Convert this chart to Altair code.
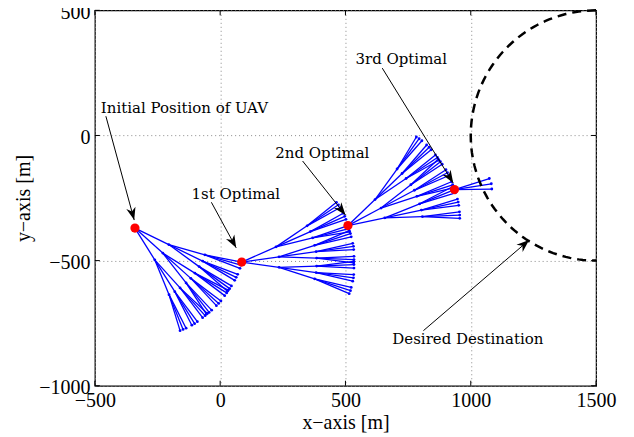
import altair as alt
import pandas as pd
import numpy as np

# ---------------- data ----------------
# optimal / initial UAV positions (red dots)
opt_x = [-340, 86, 510, 935]
opt_y = [-370, -506, -360, -216]

# tree 1 (from initial position)
t1_root = (-340, -370)
t1_l1 = [(-205, -436), (-229, -470), (-261, -497)]
t1_l2 = [(-61, -477), (-70, -502), (-84, -524), (-101, -550), (-117, -571),
         (-136, -589), (-160, -609), (-181, -624), (-204, -636)]
t1_leaf = [(86, -506), (83, -518), (79, -531), (70, -555), (64, -567), (58, -579),
           (45, -601), (38, -612), (29, -622), (32, -618), (26, -629), (18, -640),
           (3, -661), (-6, -671), (-15, -680), (-34, -698), (-44, -707), (-55, -714),
           (-51, -711), (-60, -720), (-70, -728), (-91, -744), (-102, -752), (-113, -758),
           (-136, -770), (-148, -775), (-160, -780)]

# tree 2 (from 1st optimal)
t2_root = (86, -506)
t2_l1 = [(223, -445), (235, -485), (235, -527)]
t2_l2 = [(347, -361), (360, -384), (369, -409), (377, -439), (383, -464),
         (385, -490), (385, -522), (383, -548), (377, -573)]
t2_leaf = [(464, -267), (472, -277), (479, -288), (491, -311), (497, -323), (502, -335),
           (510, -360), (514, -372), (517, -385), (515, -380), (520, -392), (523, -405),
           (529, -431), (532, -443), (533, -456), (534, -483), (534, -496), (533, -509),
           (533, -503), (534, -516), (534, -530), (533, -556), (532, -569), (529, -582),
           (523, -607), (520, -620), (515, -632)]

# tree 3 (from 2nd optimal)
t3_root = (510, -360)
t3_l1 = [(618, -256), (642, -290), (657, -329)]
t3_l2 = [(706, -134), (726, -152), (742, -172), (761, -197), (775, -219),
         (785, -243), (796, -273), (803, -298), (807, -324)]
t3_leaf = [(783, -6), (794, -13), (805, -21), (824, -38), (834, -47), (842, -57),
           (859, -78), (867, -88), (873, -99), (870, -95), (879, -105), (886, -115),
           (901, -137), (907, -149), (913, -160), (923, -185), (928, -197), (931, -209),
           (929, -204), (935, -216), (939, -229), (947, -254), (950, -266), (952, -279),
           (955, -305), (956, -318), (956, -331)]

# tree 4 (from 3rd optimal)
t4_root = (935, -216)
t4_leaf = [(1074, -172), (1082, -193), (1084, -214)]

# destination circle
dest_cx, dest_cy, dest_r = 1500, 0, 500

# axis ticks
x_ticks = [-500, 0, 500, 1000, 1500]
y_ticks = [-1000, -500, 0, 500]

# annotations
ann_text = ["Initial Position of UAV", "1st Optimal", "2nd Optimal", "3rd Optimal", "Desired Destination"]
ann_tx = [-476, -114, 220, 540, 687]
ann_ty = [109, -234, -70, 305, -812]
arr_x0 = [-456, -35, 329, 647, 811]
arr_y0 = [77, -267, -102, 269, -780]
arr_x1 = [-343, 64, 500, 930, 1233]
arr_y1 = [-338, -449, -318, -190, -418]

W, H = 502, 376

# ---------------- build tables ----------------
segs = []
nodes = []


def add_tree(root, l1, l2, leaves):
    nodes.append(root)
    if not l1:
        for p in leaves:
            segs.append((root, p))
            nodes.append(p)
        return
    for p in l1:
        segs.append((root, p))
        nodes.append(p)
    for i, p in enumerate(l2):
        segs.append((l1[i // 3], p))
        nodes.append(p)
    for i, p in enumerate(leaves):
        segs.append((l2[i // 3], p))
        nodes.append(p)


add_tree(t1_root, t1_l1, t1_l2, t1_leaf)
add_tree(t2_root, t2_l1, t2_l2, t2_leaf)
add_tree(t3_root, t3_l1, t3_l2, t3_leaf)
add_tree(t4_root, [], [], t4_leaf)

seg_df = pd.DataFrame([{"x": a[0], "y": a[1], "x2": b[0], "y2": b[1]} for a, b in segs])
node_df = pd.DataFrame([{"x": p[0], "y": p[1]} for p in nodes])
opt_df = pd.DataFrame({"x": opt_x, "y": opt_y})

ang = np.deg2rad(np.arange(90, 271, 2))
circ_df = pd.DataFrame({"x": dest_cx + dest_r * np.cos(ang),
                        "y": dest_cy + dest_r * np.sin(ang),
                        "o": np.arange(len(ang))})

arr_df = pd.DataFrame({"x": arr_x0, "y": arr_y0, "x2": arr_x1, "y2": arr_y1})
head_df = pd.DataFrame({"x": arr_x1, "y": arr_y1,
                        "ang": [(np.degrees(np.arctan2(x1 - x0, y1 - y0)) + 360) % 360
                                for x0, y0, x1, y1 in zip(arr_x0, arr_y0, arr_x1, arr_y1)]})
txt_df = pd.DataFrame({"x": ann_tx, "y": ann_ty, "t": ann_text})
xt_df = pd.DataFrame({"x": x_ticks})
yt_df = pd.DataFrame({"y": y_ticks})

# ---------------- encodings ----------------
grid_axis = dict(grid=True, gridColor="#8a8a8a", gridDash=[1, 3], gridWidth=1,
                 ticks=False, domain=False, labelFont="Liberation Serif", labelFontSize=20,
                 labelColor="black", titleFont="Liberation Serif", titleFontSize=20,
                 titleFontWeight="normal", titleColor="black", labelOverlap=False,
                 labelFlush=False, labelPadding=5, format="d")

xs = alt.Scale(domain=[-500, 1500], nice=False, zero=False)
ys = alt.Scale(domain=[-1000, 500], nice=False, zero=False)
X = alt.X("x:Q", scale=xs,
          axis=alt.Axis(values=x_ticks, title="x−axis [m]", titlePadding=2, **grid_axis))
Y = alt.Y("y:Q", scale=ys,
          axis=alt.Axis(values=y_ticks, title="y−axis [m]", titlePadding=5,
                        labelOffset=2, **grid_axis))

seg_layer = alt.Chart(seg_df).mark_rule(color="#0000ff", strokeWidth=1.3).encode(
    x=X, y=Y, x2="x2:Q", y2="y2:Q")
node_layer = alt.Chart(node_df).mark_circle(color="#0000ff", size=8, opacity=1).encode(x=X, y=Y)
circ_layer = alt.Chart(circ_df).mark_line(color="black", strokeWidth=2.5, strokeDash=[9, 6]).encode(
    x=X, y=Y, order="o:Q")
opt_layer = alt.Chart(opt_df).mark_circle(color="#ff0000", size=85, opacity=1).encode(x=X, y=Y)
arr_layer = alt.Chart(arr_df).mark_rule(color="black", strokeWidth=1).encode(
    x=X, y=Y, x2="x2:Q", y2="y2:Q")
head_layer = alt.Chart(head_df).mark_point(
    shape="M0,0 L0.75,2 L0,1.4 L-0.75,2 Z", filled=True, color="black", size=160, opacity=1
).encode(x=X, y=Y, angle=alt.Angle("ang:Q", scale=None))
txt_layer = alt.Chart(txt_df).mark_text(
    align="left", baseline="middle", font="DejaVu Serif", fontSize=15, color="black"
).encode(x=X, y=Y, text="t:N")

# inward tick marks on all four sides (MATLAB box style)
tick_style = dict(color="black", strokeWidth=1)
xt_bot = alt.Chart(xt_df).mark_rule(**tick_style).encode(x=X, y=alt.value(H), y2=alt.value(H - 5))
xt_top = alt.Chart(xt_df).mark_rule(**tick_style).encode(x=X, y=alt.value(0), y2=alt.value(5))
yt_left = alt.Chart(yt_df).mark_rule(**tick_style).encode(y=Y, x=alt.value(0), x2=alt.value(5))
yt_right = alt.Chart(yt_df).mark_rule(**tick_style).encode(y=Y, x=alt.value(W), x2=alt.value(W - 5))

chart = alt.layer(seg_layer, node_layer, circ_layer, opt_layer, arr_layer, head_layer, txt_layer,
                  xt_bot, xt_top, yt_left, yt_right).properties(
    width=W, height=H,
    autosize=alt.AutoSizeParams(type="none"),
    padding={"left": 87, "top": 2, "right": 30, "bottom": 50},
).configure_view(stroke="black", strokeWidth=1.2)

chart.save("out.html", embed_options={"renderer": "svg", "actions": False})
